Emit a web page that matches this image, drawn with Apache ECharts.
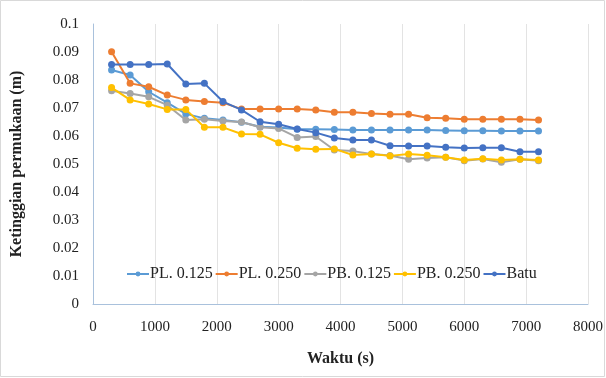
<!DOCTYPE html>
<html>
<head>
<meta charset="utf-8">
<script src="https://cdn.jsdelivr.net/npm/echarts@6/dist/echarts.min.js"></script>
<style>
  html, body { margin: 0; padding: 0; background: #fff; }
  #chart { width: 606px; height: 378px; }
</style>
</head>
<body>
<div id="chart"></div>
<script>
const times = [300, 600, 900, 1200, 1500, 1800, 2100, 2400, 2700, 3000, 3300, 3600,
  3900, 4200, 4500, 4800, 5100, 5400, 5700, 6000, 6300, 6600, 6900, 7200];

const pl125 = [0.0836, 0.0818, 0.0758, 0.0719, 0.0679, 0.0663, 0.0657, 0.0649, 0.0633, 0.0630, 0.0624, 0.0624,
  0.0623, 0.0621, 0.0621, 0.0621, 0.0621, 0.0621, 0.0620, 0.0619, 0.0619, 0.0618, 0.0618, 0.0618];
const pl250 = [0.0901, 0.0788, 0.0776, 0.0746, 0.0729, 0.0723, 0.0719, 0.0696, 0.0696, 0.0696, 0.0696, 0.0693,
  0.0685, 0.0685, 0.0680, 0.0678, 0.0678, 0.0665, 0.0663, 0.0660, 0.0660, 0.0660, 0.0660, 0.0657];
const pb125 = [0.0762, 0.0752, 0.0740, 0.0710, 0.0657, 0.0660, 0.0654, 0.0650, 0.0631, 0.0627, 0.0595, 0.0598,
  0.0550, 0.0546, 0.0536, 0.0530, 0.0517, 0.0521, 0.0524, 0.0512, 0.0518, 0.0506, 0.0517, 0.0512];
const pb250 = [0.0773, 0.0729, 0.0714, 0.0695, 0.0695, 0.0631, 0.0631, 0.0607, 0.0606, 0.0576, 0.0556, 0.0553,
  0.0554, 0.0532, 0.0536, 0.0529, 0.0536, 0.0531, 0.0524, 0.0514, 0.0519, 0.0514, 0.0517, 0.0514];
const batu = [0.0855, 0.0855, 0.0855, 0.0857, 0.0786, 0.0788, 0.0723, 0.0693, 0.0651, 0.0642, 0.0625, 0.0612,
  0.0593, 0.0586, 0.0586, 0.0565, 0.0564, 0.0564, 0.0560, 0.0557, 0.0558, 0.0558, 0.0544, 0.0544];

const seriesNames = ['PL. 0.125', 'PL. 0.250', 'PB. 0.125', 'PB. 0.250', 'Batu'];
const seriesData = [pl125, pl250, pb125, pb250, batu];
const colors = ['#5b9bd5', '#ed7d31', '#a5a5a5', '#ffc000', '#4472c4'];

const font = 'Liberation Serif';
const chart = echarts.init(document.getElementById('chart'));

const option = {
  backgroundColor: '#fff',
  animation: false,
  color: colors,
  grid: { left: 93, right: 18, top: 24, bottom: 74 },
  legend: {
    bottom: 91,
    left: 121,
    itemWidth: 22,
    itemHeight: 6,
    itemGap: 2,
    textStyle: { fontFamily: font, fontSize: 16, color: '#222', padding: [0, 0, 0, -4] },
    data: seriesNames
  },
  xAxis: {
    type: 'value',
    min: 0,
    max: 8000,
    interval: 1000,
    axisLine: { show: true, lineStyle: { color: '#a9c1dc', width: 1 } },
    axisTick: { show: false },
    axisLabel: { fontFamily: font, fontSize: 15, color: '#222', margin: 16, formatter: v => String(v) },
    splitLine: { show: true, lineStyle: { color: '#e3e3e3' } },
    name: 'Waktu (s)',
    nameLocation: 'middle',
    nameGap: 47,
    nameTextStyle: { fontFamily: font, fontSize: 16, fontWeight: 'bold', color: '#222' }
  },
  yAxis: {
    type: 'value',
    min: 0,
    max: 0.1,
    interval: 0.01,
    axisLine: { show: true, lineStyle: { color: '#a9c1dc', width: 1 } },
    axisTick: { show: false },
    axisLabel: { fontFamily: font, fontSize: 15, color: '#222', margin: 14 },
    splitLine: { show: false },
    name: 'Ketinggian permukaan (m)',
    nameLocation: 'middle',
    nameGap: 68,
    nameTextStyle: { fontFamily: font, fontSize: 16, fontWeight: 'bold', color: '#222' }
  },
  series: seriesNames.map((name, i) => ({
    name: name,
    type: 'line',
    data: times.map((t, j) => [t, seriesData[i][j]]),
    symbol: 'circle',
    symbolSize: 7,
    lineStyle: { width: 2 },
    z: 2 + i
  })),
  graphic: [{
    type: 'rect',
    shape: { x: 0.5, y: 0.5, width: 604, height: 376 },
    style: { fill: 'none', stroke: '#d9d9d9', lineWidth: 1 },
    silent: true
  }]
};

chart.setOption(option);
</script>
</body>
</html>
